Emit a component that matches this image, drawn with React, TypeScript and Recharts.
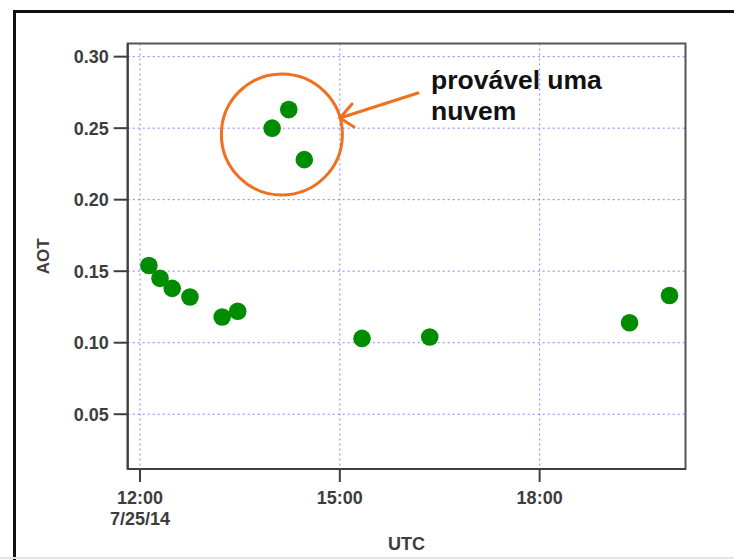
import {
  CartesianGrid,
  ReferenceArea,
  ReferenceDot,
  Scatter,
  ScatterChart,
  XAxis,
  YAxis,
} from "recharts";

const TIMES = [
  "12:08", "12:18", "12:29", "12:45", "13:14", "13:28", "13:59",
  "14:14", "14:28", "15:20", "16:21", "19:21", "19:57",
];
const AOT = [
  0.154, 0.145, 0.138, 0.132, 0.118, 0.122, 0.25,
  0.263, 0.228, 0.103, 0.104, 0.114, 0.133,
];
const X_TICKS = [12, 15, 18];
const Y_TICKS = [0.05, 0.1, 0.15, 0.2, 0.25, 0.3];
const X_DOMAIN: [number, number] = [11.815, 20.19];
const Y_DOMAIN: [number, number] = [0.0117, 0.3092];

const FONT = "'Liberation Sans', Arial, sans-serif";
const TEXT = "#3d3d3d";
const AXIS = "#3f3f3f";
const GREEN = "#008c00";
const ORANGE = "#f07020";

const toHours = (t: string) => {
  const [h, m] = t.split(":").map(Number);
  return h + m / 60;
};

const data = TIMES.map((t, i) => ({ t: toHours(t), aot: AOT[i] }));

const fmtHour = (h: number) => `${String(h).padStart(2, "0")}:00`;

function XTick(props: any) {
  const { x, y, payload } = props;
  return (
    <g>
      <text
        x={x}
        y={y + 20}
        textAnchor="middle"
        fontFamily={FONT}
        fontWeight="bold"
        fontSize={18}
        fill={TEXT}
      >
        {fmtHour(payload.value)}
      </text>
      {payload.value === 12 && (
        <text
          x={x}
          y={y + 41}
          textAnchor="middle"
          fontFamily={FONT}
          fontWeight="bold"
          fontSize={18}
          fill={TEXT}
        >
          7/25/14
        </text>
      )}
    </g>
  );
}

function Dot(props: any) {
  return <circle cx={props.cx} cy={props.cy} r={8.8} fill={GREEN} />;
}

export default function App() {
  return (
    <div
      style={{
        position: "absolute",
        left: 0,
        top: 0,
        width: 734,
        height: 560,
        overflow: "hidden",
        background: "#fff",
      }}
    >
      <div style={{ position: "absolute", left: 0, top: 0 }}>
        <ScatterChart
          width={734}
          height={560}
          margin={{ top: 43.5, right: 48.5, bottom: 0, left: 0 }}
        >
          <CartesianGrid
            stroke="#8080ff"
            strokeDasharray="2 3"
            strokeWidth={1}
          />
          <XAxis
            type="number"
            dataKey="t"
            domain={X_DOMAIN}
            ticks={X_TICKS}
            allowDataOverflow
            height={91}
            tickSize={13}
            tickLine={{ stroke: AXIS, strokeWidth: 2 }}
            axisLine={{ stroke: AXIS, strokeWidth: 2 }}
            tick={<XTick />}
            label={{
              content: (p: any) => (
                <text
                  x={p.viewBox.x + p.viewBox.width / 2}
                  y={p.viewBox.y + 81}
                  textAnchor="middle"
                  fontFamily={FONT}
                  fontWeight="bold"
                  fontSize={18}
                  fill={TEXT}
                >
                  UTC
                </text>
              ),
            }}
          />
          <YAxis
            type="number"
            dataKey="aot"
            domain={Y_DOMAIN}
            ticks={Y_TICKS}
            allowDataOverflow
            width={127.7}
            tickSize={14}
            tickMargin={5}
            tickFormatter={(v: number) => v.toFixed(2)}
            tick={{
              fill: TEXT,
              fontFamily: FONT,
              fontWeight: "bold",
              fontSize: 18,
            }}
            tickLine={{ stroke: AXIS, strokeWidth: 2 }}
            axisLine={{ stroke: AXIS, strokeWidth: 2 }}
            label={{
              content: (p: any) => (
                <text
                  x={43}
                  y={p.viewBox.y + p.viewBox.height / 2}
                  transform={`rotate(-90 43 ${p.viewBox.y + p.viewBox.height / 2})`}
                  textAnchor="middle"
                  dominantBaseline="central"
                  fontFamily={FONT}
                  fontWeight="bold"
                  fontSize={17}
                  fill={TEXT}
                >
                  AOT
                </text>
              ),
            }}
          />
          <ReferenceArea
            x1={X_DOMAIN[0]}
            x2={X_DOMAIN[1]}
            y1={Y_DOMAIN[0]}
            y2={Y_DOMAIN[1]}
            fill="none"
            stroke="#555"
            strokeWidth={2}
            ifOverflow="visible"
          />
          <Scatter data={data} shape={<Dot />} isAnimationActive={false} />
          <ReferenceDot
            x={14.13}
            y={0.2456}
            r={60.5}
            fill="none"
            stroke={ORANGE}
            strokeWidth={3}
            ifOverflow="visible"
          />
        </ScatterChart>
      </div>
      <svg
        width={734}
        height={560}
        style={{ position: "absolute", left: 0, top: 0, pointerEvents: "none" }}
      >
        {/* outer frame of the original figure */}
        <path d="M14.5,560 V11.5 H734" stroke="#111" strokeWidth={3} fill="none" />
        <line x1={0} y1={558} x2={734} y2={558} stroke="#e4e4e4" strokeWidth={2} />
        <g stroke={ORANGE} strokeWidth={3} strokeLinecap="round" fill="none">
          <line x1={418} y1={93} x2={340} y2={118} />
          <polyline points="352,104 340,118 354,127" />
        </g>
        <g fontFamily={FONT} fontWeight="bold" fontSize={26.5} fill="#111">
          <text x={431} y={89}>
            provável uma
          </text>
          <text x={431} y={120}>
            nuvem
          </text>
        </g>
      </svg>
    </div>
  );
}
